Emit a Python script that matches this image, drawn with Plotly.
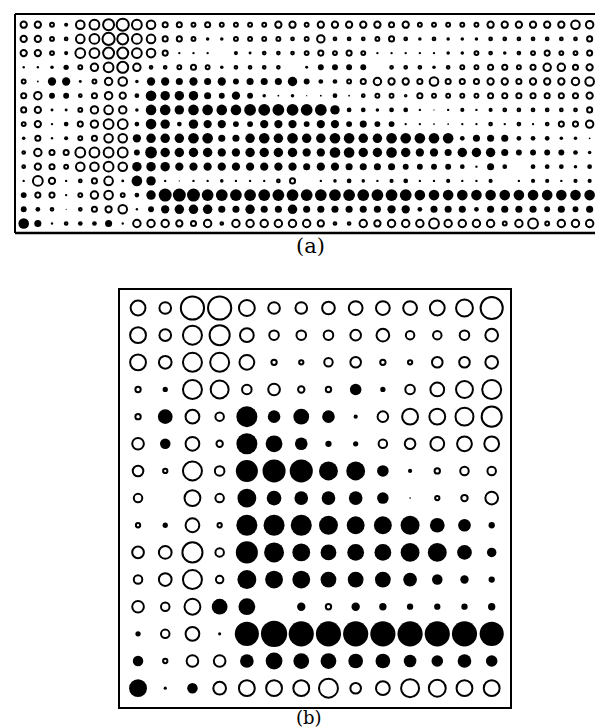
import plotly.graph_objects as go

W, H = 603, 727

# ---------------- Panel (a): 15 rows x 42 columns ----------------
# sign: + open circle, - filled circle; magnitude ~ circle diameter
a_r00 = [7, 7, 5, 3.5, 9, 10, 11, 12, 10, 9, 6, 6, 5, 6, 5, 5, 5, 5, 7, 7, 5, 7, 7, 7, 7, 7, 6, 7, 5, 5, 5, 5, 5, 7, 7, 7, 7, 7, 7, 9, 8, 8]
a_r01 = [7, 7, 5, 4, 9, 10, 12, 11, 10, 9, 6, 6, 5, -3, -3, 5, 5, 5, 5, 4, 5, 8, 4, 4, 4, 5, 6, 4, -3, 4, -3, -3, -3, 4, 4, 4, 4, 4, 4, 4, 6, 7]
a_r02 = [7, 7, 5, 3.5, 10, 10, 11, 11, 10, 9, 6, -2, -2, -2, 0, 3.5, -2.5, 4, 4, 4, 5, 6, 5, 6, 5, -2, -2, -2, -2, -2, -3, -3, 5, 4, -3, 4, 5, 6, 5, 5, 6, 7]
a_r03 = [-2, -2, -3, -4.5, 5, 8, 10, 11, 8, 4, 4, 5, 6, 5, -3, 4, 4, 4, 4, 0, -2.5, -5, -5, -5, -5, 0, 4, 4, 4, -3, 4, 5, 5, 6, 6, 5, 6, 8, 8, 6, 7, 7]
a_r04 = [5, -1.5, -7, -7, -2.5, 5, 8, 9, -3, -7, -7, -6, -7, -6, -7, -5, -6, -6, -6, -8, -5, -4, -4, 5, 6, 8, 7, 7, 6, 9, 6, 6, 6, 7, 7, 6, 7, 7, 7, 8, 9, 8]
a_r05 = [6, 8, -5, -5, 4, 6, 8, 7, -4, -9, -8, -8, -8, -6, -5, -7, -5, -3, -1.5, -3, -1, -1.5, -4, -1.5, 4, 5, 5, 3, 6, 5, 5, 5, 5, 6, 6, 6, 6, 6, 6, 6, 7, 8]
a_r06 = [6, 7, -2.5, -2.5, 5, 8, 9, 8, -3, -9, -9, -8, -9, -9, -9, -9, -10, -10, -10, -10, -10, -10, -8, -4, -4, -3, -4, -4, -2, -1, -2, 3.5, -2, 3.5, 4, 4, 4, 4, 4, 4, 6, 7]
a_r07 = [5, 7, -2, -4, 6, 8, 10, 10, -4, -9, -8, -4, -8, -7, -7, -5, -5, -7, -7, -7, -5, -7, -7, -5, -6, -5, -5, -2, -2, -1.5, -1.5, -2, -2, 4, -2, 4, -2, 4, 6, 6, 8, 7]
a_r08 = [-3, 6, -2, -3.5, 5, 6, 9, 9, -7, -8, -8, -8, -9, -9, -6, -6, -8, -9, -8, -9, -8, -8, -9, -9, -8, -8, -9, -9, -9, -9, -9, -4, -6, -6, -6, -4, -4, -4, -3, -3, -1.5, 4]
a_r09 = [4, 8, 6, 6, 10, 10, 10, 10, -5, -10, -8, -8, -8, -8, -7, -7, -8, -8, -8, -8, -7, -7, -9, -9, -8, -8, -9, -8, -7, -7, -6, -8, -8, -8, -6, -5, -5, -5, -5, -4, -3, -3]
a_r10 = [4, 7, 6, 5, 9, 9, 10, 9, -8, -8, -8, -7, -7, -7, -7, -7, -7, -7, -7, -7, -6, -7, -7, -6, -6, -6, -6, -5, -5, -5, -5, -4, -2, -6, -4, 0, -4, -4, -4, -3, -4, 0]
a_r11 = [-2, 10, 7, -2, 4, 6, 9, -2.5, -9, -8, -2, -1, -2, -2, -3, -2, -2, -2, 4, 6, 0, -2, -3, -4, -3, -2, -3.5, -4, -2, -2, -3.5, -2, -2, -3.5, 0, -2, -3.5, -3.5, -2, -3.5, -3.5, -1.5]
a_r12 = [-5, 6, 6, -2, 5, 8, 9, 5, -4, -8, -11, -11, -11, -10, -10, -10, -10, -10, -10, -10, -10, -10, -10, -10, -10, -10, -10, -10, -9, -9, -9, -9, -9, -9, -9, -9, -9, -9, -9, -9, -9, -9]
a_r13 = [-5, -4, 4, -1, 4, 6, 7, 9, -2, -5, -7, -8, -8, -8, -6, -6, -8, -6, -6, -8, -6, -6, -6, -6, -6, -6, -7, -7, -4, -6, -6, -6, -4, -6, -6, -6, -6, -5, -6, -5, -6, -5]
a_r14 = [-9, -6, -2, 4, -4, -4, -6, -2, 8, 8, 8, 7, 6, 8, 4, 8, 8, 8, 8, 8, 8, 7, 4, 4, 8, 7, 8, 8, 8, 10, 8, 8, 8, 8, 5, 8, 10, 5, 8, 8, 8, 8]

# ---------------- Panel (b): 15 rows x 14 columns ----------------
b_r00 = [16, 13, 24, 24, 17, 13, 13, 14, 15, 15, 15, 16, 18, 23]
b_r01 = [17, 13, 20, 21, 15, 11, 11, 11, 12, 14, 10, 10, 11, 14]
b_r02 = [17, 14, 20, 20, 16, 7, 6, 10, 12, 7, 6, 12, 12, 14]
b_r03 = [7, -5, 20, 19, 11, 13, 8, 7, -11, -5, 11, 15, 18, 20]
b_r04 = [7, -14, 15, 10, -20, -12, -15, -12, -4, 12, 17, 17, 19, 21]
b_r05 = [13, -10, 15, 8, -20, -16, -12, -6, -5, 10, 12, 15, 16, 16]
b_r06 = [12, 6, 20, 11, -21, -22, -22, -18, -18, -11, -4, 7, 10, 10]
b_r07 = [10, 0, 17, 10, -18, -14, -13, -13, -13, -11, -1.5, 6, 8, 14]
b_r08 = [6, -5, 15, 6, -20, -20, -20, -18, -17, -17, -18, -14, -12, -6]
b_r09 = [13, 14, 21, 10, -21, -19, -17, -15, -16, -16, -18, -18, -14, -9]
b_r10 = [10, 14, 20, 9, -18, -17, -17, -15, -15, -15, -13, -10, -8, -6]
b_r11 = [13, 10, 17, -15, -16, 0, -8, 7, -8, -7, -6, -6, -6, -7]
b_r12 = [-5, 10, 15, -3, -23, -25, -24, -24, -24, -24, -24, -24, -24, -23]
b_r13 = [-10, 6, 13, 13, -13, -16, -15, -15, -14, -14, -12, -11, -13, -11]
b_r14 = [-17, -3, -10, 14, 17, 17, 17, 20, 12, 15, 19, 18, 17, 17]

A_ROWS = [a_r00, a_r01, a_r02, a_r03, a_r04, a_r05, a_r06, a_r07,
          a_r08, a_r09, a_r10, a_r11, a_r12, a_r13, a_r14]
B_ROWS = [b_r00, b_r01, b_r02, b_r03, b_r04, b_r05, b_r06, b_r07,
          b_r08, b_r09, b_r10, b_r11, b_r12, b_r13, b_r14]

fig = go.Figure()


def add_panel(rows, xa, ya, lw, k):
    xo, yo, so, xf, yf, sf = [], [], [], [], [], []
    for r, row in enumerate(rows):
        for c, v in enumerate(row):
            if v > 0:
                xo.append(c); yo.append(r); so.append(max(v * k - lw, 1.5))
            elif v < 0:
                xf.append(c); yf.append(r); sf.append(-v * k)
    fig.add_trace(go.Scatter(
        x=xo, y=yo, mode="markers", xaxis=xa, yaxis=ya, hoverinfo="skip",
        showlegend=False,
        marker=dict(symbol="circle", size=so, color="white", opacity=1,
                    line=dict(color="black", width=lw))))
    fig.add_trace(go.Scatter(
        x=xf, y=yf, mode="markers", xaxis=xa, yaxis=ya, hoverinfo="skip",
        showlegend=False,
        marker=dict(symbol="circle", size=sf, color="black", opacity=1,
                    line=dict(color="black", width=0))))


add_panel(A_ROWS, "x", "y", 2.0, 1.18)
add_panel(B_ROWS, "x2", "y2", 2.0, 1.05)


def px(p):
    return p / W


def py(p):
    return 1 - p / H


hidden = dict(showgrid=False, zeroline=False, showticklabels=False,
              ticks="", showline=False)

fig.update_layout(
    width=W, height=H,
    margin=dict(l=0, r=0, t=0, b=0),
    paper_bgcolor="white", plot_bgcolor="rgba(0,0,0,0)",
    xaxis=dict(domain=[px(7), 1.0], range=[-0.615, 41.51], **hidden),
    yaxis=dict(domain=[py(225), py(6)], range=[14.67, -0.754], **hidden),
    xaxis2=dict(domain=[px(111), px(503)], range=[-0.70, 13.71], anchor="y2", **hidden),
    yaxis2=dict(domain=[py(700), py(281)], range=[14.73, -0.70], anchor="x2", **hidden),
    shapes=[
        # panel (a) frame (right side cut off by the image edge)
        dict(type="line", xref="paper", yref="paper", x0=px(7), x1=1.0, y0=py(6), y1=py(6),
             line=dict(color="black", width=1.8)),
        dict(type="line", xref="paper", yref="paper", x0=px(7), x1=1.0, y0=py(225), y1=py(225),
             line=dict(color="black", width=2.4)),
        dict(type="line", xref="paper", yref="paper", x0=px(7), x1=px(7), y0=py(6), y1=py(225),
             line=dict(color="black", width=2)),
        # panel (b) frame
        dict(type="rect", xref="paper", yref="paper", x0=px(111), x1=px(503), y0=py(700), y1=py(281),
             line=dict(color="black", width=2)),
    ],
    annotations=[
        dict(text="(a)", xref="paper", yref="paper", x=px(302), y=py(238),
             showarrow=False, xanchor="center", yanchor="middle",
             font=dict(family="DejaVu Serif, Liberation Serif, serif", size=21, color="black")),
        dict(text="(b)", xref="paper", yref="paper", x=px(301), y=py(709),
             showarrow=False, xanchor="center", yanchor="middle",
             font=dict(family="DejaVu Serif, Liberation Serif, serif", size=18, color="black")),
    ],
)

fig.write_html("out.html")
